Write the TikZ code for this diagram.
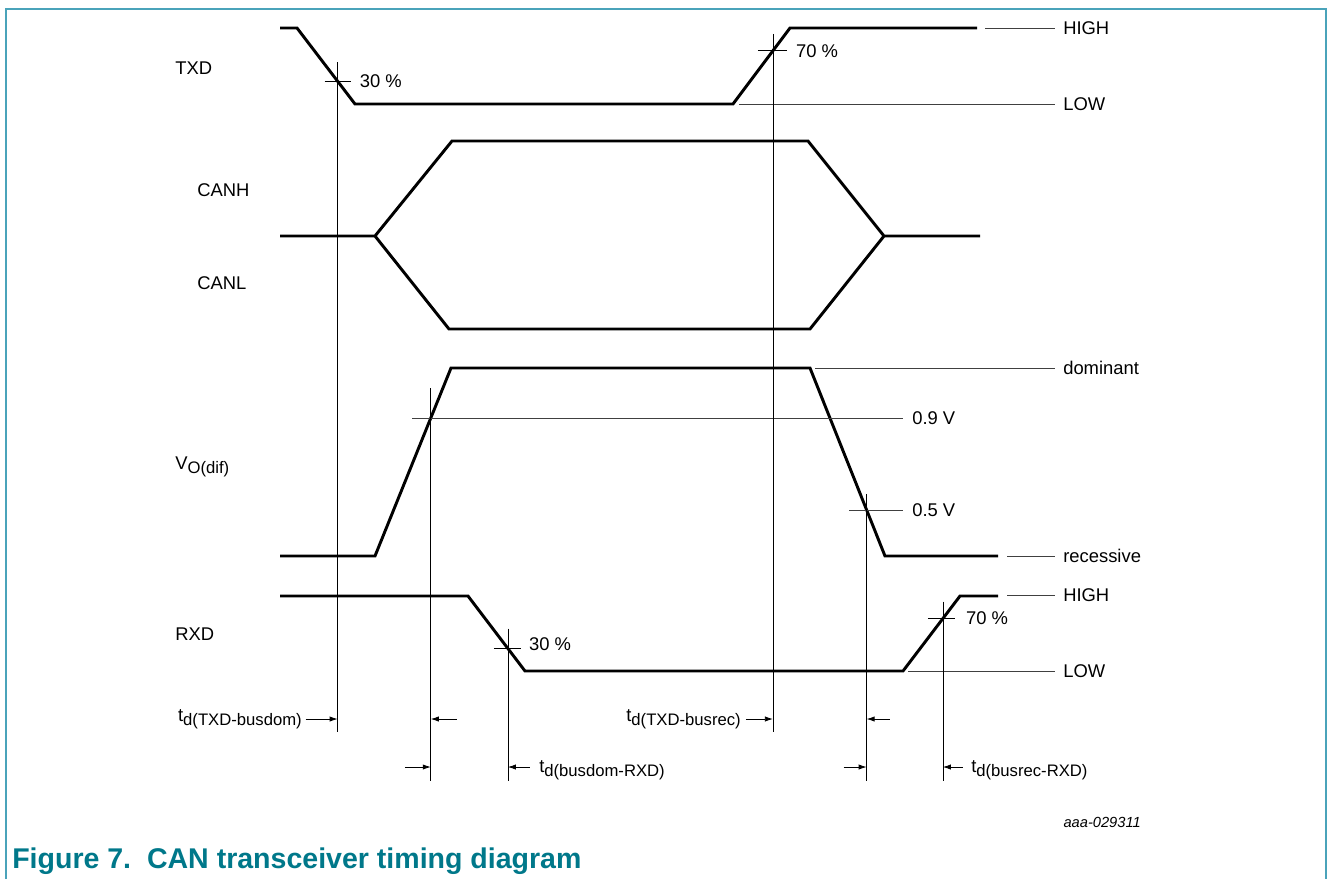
\documentclass[tikz,border=0pt]{standalone}
\usepackage{fontspec}
\setmainfont{Liberation Sans}
\usetikzlibrary{calc,arrows.meta}

\definecolor{framecol}{HTML}{4AA3BA}
\definecolor{captioncol}{HTML}{00788A}

% lowered, slightly smaller index text
\newcommand\lowidx[1]{\raisebox{-0.45ex}{\fontsize{12.5}{14}\selectfont #1}}

\tikzset{
  wave/.style={line width=2.2pt, line join=miter},
  refline/.style={line width=0.6pt, black!75},
  marker/.style={line width=0.6pt},
  lbl/.style={font=\fontsize{13.8}{16}\selectfont, inner sep=0pt},
  delay/.style={-{Latex[length=6pt,width=4pt]}, line width=0.6pt},
}

\begin{document}
\begin{tikzpicture}[x=0.75pt,y=-0.75pt]
  \useasboundingbox (0,0) rectangle (1328,879);
  % frame
  \coordinate (FL) at (5.5,879);
  \coordinate (FTL) at (5.5,8.5);
  \coordinate (FTR) at (1326,8.5);
  \coordinate (FR) at (1326,879);
  \draw[framecol, line width=1.5pt] (FL) -- (FTL) -- (FTR) -- (FR);

  % TXD
  \coordinate (T0) at (280,28);
  \coordinate (T1) at (297,28);
  \coordinate (T2) at (355,104);
  \coordinate (T3) at (733,104);
  \coordinate (T4) at (790,28);
  \coordinate (T5) at (977,28);
  \draw[wave] (T0) -- (T1) -- (T2) -- (T3) -- (T4) -- (T5);
  % CANH and CANL
  \coordinate (C0) at (280,236);
  \coordinate (C1) at (375,236);
  \coordinate (C2) at (452,141);
  \coordinate (C3) at (808,141);
  \coordinate (C4) at (884,236);
  \coordinate (C5) at (980,236);
  \coordinate (C6) at (449,329);
  \coordinate (C7) at (810,329);
  \draw[wave] (C0) -- (C1) -- (C2) -- (C3) -- (C4) -- (C5);
  \draw[wave] (C1) -- (C6) -- (C7) -- (C4);
  % VO(dif)
  \coordinate (V0) at (280,556);
  \coordinate (V1) at (375,556);
  \coordinate (V2) at (451,368);
  \coordinate (V3) at (810,368);
  \coordinate (V4) at (885,556);
  \coordinate (V5) at (998,556);
  \draw[wave] (V0) -- (V1) -- (V2) -- (V3) -- (V4) -- (V5);
  % RXD
  \coordinate (R0) at (280,596);
  \coordinate (R1) at (468,596);
  \coordinate (R2) at (525,671);
  \coordinate (R3) at (903,671);
  \coordinate (R4) at (960,596);
  \coordinate (R5) at (998,596);
  \draw[wave] (R0) -- (R1) -- (R2) -- (R3) -- (R4) -- (R5);

  % signal names
  \node[lbl, anchor=west] (txd) at (175,68) {TXD};
  \node[lbl, anchor=west] (canh) at (197,190) {CANH};
  \node[lbl, anchor=west] (canl) at (197,283) {CANL};
  \node[lbl, anchor=west] (vodif) at (175,467) {V\lowidx{O(dif)}};
  \node[lbl, anchor=west] (rxd) at (175,634) {RXD};

  % level lines on the right
  \coordinate (E1) at (1055,28);
  \coordinate (E2) at (1055,104);
  \coordinate (E3) at (1055,368);
  \coordinate (E4) at (903,418);
  \coordinate (E5) at (903,510);
  \coordinate (E6) at (1055,556);
  \coordinate (E7) at (1055,595);
  \coordinate (E8) at (1055,671);
  \draw[refline] (985,28) -- (E1);
  \draw[refline] (739,104) -- (E2);
  \draw[refline] (815,368) -- (E3);
  \draw[refline] (412,418) -- (E4);
  \draw[refline] (849,510) -- (E5);
  \draw[refline] (1007,556) -- (E6);
  \draw[refline] (1007,595) -- (E7);
  \draw[refline] (908,671) -- (E8);
  \node[lbl, anchor=west] (high1) at ($(E1)+(8,0)$) {HIGH};
  \node[lbl, anchor=west] (low1) at ($(E2)+(8,0)$) {LOW};
  \node[lbl, anchor=west] (dom) at ($(E3)+(8,0)$) {dominant};
  \node[lbl, anchor=west] (v09) at ($(E4)+(9,0)$) {0.9 V};
  \node[lbl, anchor=west] (v05) at ($(E5)+(9,0)$) {0.5 V};
  \node[lbl, anchor=west] (rec) at ($(E6)+(8,0)$) {recessive};
  \node[lbl, anchor=west] (high2) at ($(E7)+(8,0)$) {HIGH};
  \node[lbl, anchor=west] (low2) at ($(E8)+(8,0)$) {LOW};

  % crossing points
  \coordinate (X1) at ($(T1)!0.7!(T2)$);
  \coordinate (X2) at ($(T3)!0.7!(T4)$);
  \coordinate (X3) at ($(V1)!0.734!(V2)$);
  \coordinate (X4) at ($(V3)!0.755!(V4)$);
  \coordinate (X5) at ($(R1)!0.7!(R2)$);
  \coordinate (X6) at ($(R3)!0.7!(R4)$);
  \coordinate (lowA) at (0,732);
  \coordinate (lowB) at (0,781);
  \draw[marker] ($(X1)+(0,-19)$) -- (X1 |- lowA);
  \draw[marker] ($(X2)+(0,-17)$) -- (X2 |- lowA);
  \draw[marker] ($(X3)+(0,-30)$) -- (X3 |- lowB);
  \draw[marker] ($(X4)+(0,-16)$) -- (X4 |- lowB);
  \draw[marker] ($(X5)+(0,-20)$) -- (X5 |- lowB);
  \draw[marker] ($(X6)+(0,-17)$) -- (X6 |- lowB);
  \draw[marker] ($(X1)+(-13,0)$) -- ($(X1)+(13,0)$);
  \draw[marker] ($(X2)+(-15,0)$) -- ($(X2)+(14,0)$);
  \draw[marker] ($(X5)+(-14,0)$) -- ($(X5)+(13,0)$);
  \draw[marker] ($(X6)+(-15,0)$) -- ($(X6)+(12,0)$);
  \node[lbl, anchor=west] (p30a) at ($(X1)+(22,0)$) {30 \%};
  \node[lbl, anchor=west] (p70a) at ($(X2)+(23,0)$) {70 \%};
  \node[lbl, anchor=west] (p30b) at ($(X5)+(21,-4)$) {30 \%};
  \node[lbl, anchor=west] (p70b) at ($(X6)+(23,0)$) {70 \%};

  % delay times
  \node[lbl, anchor=east] (tda) at (302,719) {t\lowidx{d(TXD-busdom)}};
  \node[lbl, anchor=east] (tdb) at (741,719) {t\lowidx{d(TXD-busrec)}};
  \node[lbl, anchor=west] (tdc) at (539,770) {t\lowidx{d(busdom-RXD)}};
  \node[lbl, anchor=west] (tdd) at (971,770) {t\lowidx{d(busrec-RXD)}};
  \coordinate (A1) at (X1 |- 0,719);
  \coordinate (A2) at (X3 |- 0,719);
  \coordinate (A3) at (X2 |- 0,719);
  \coordinate (A4) at (X4 |- 0,719);
  \coordinate (B1) at (X3 |- 0,767);
  \coordinate (B2) at (X5 |- 0,767);
  \coordinate (B3) at (X4 |- 0,767);
  \coordinate (B4) at (X6 |- 0,767);
  \draw[delay] ($(A1)+(-32,0)$) -- (A1);
  \draw[delay] ($(A2)+(26,0)$) -- (A2);
  \draw[delay] ($(A3)+(-27,0)$) -- (A3);
  \draw[delay] ($(A4)+(23,0)$) -- (A4);
  \draw[delay] ($(B1)+(-26,0)$) -- (B1);
  \draw[delay] ($(B2)+(22,0)$) -- (B2);
  \draw[delay] ($(B3)+(-23,0)$) -- (B3);
  \draw[delay] ($(B4)+(20,0)$) -- (B4);

  % figure code and caption
  \node[font=\fontsize{11}{13}\selectfont\itshape, anchor=east, inner sep=0pt] (code) at (1141,822) {aaa-029311};
  \node[font=\fontsize{21.4}{24}\selectfont\bfseries, text=captioncol, anchor=base west, inner sep=0pt] (cap) at (12,868) {Figure 7.\ \ CAN transceiver timing diagram};
\end{tikzpicture}
\end{document}
